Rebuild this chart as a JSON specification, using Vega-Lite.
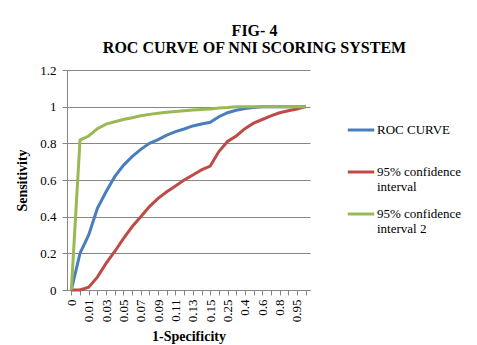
{
  "$schema": "https://vega.github.io/schema/vega-lite/v6.json",
  "width": 243,
  "height": 220,
  "autosize": {"type": "none"},
  "padding": {"left": 67, "top": 70, "right": 167, "bottom": 55},
  "background": "white",
  "title": {
    "text": ["FIG- 4", "ROC CURVE OF NNI SCORING SYSTEM"],
    "font": "'Liberation Serif', 'Times New Roman', serif",
    "fontSize": 16,
    "fontWeight": "bold",
    "lineHeight": 17,
    "color": "black",
    "anchor": "middle",
    "dx": 66,
    "offset": 8
  },
  "data": {
    "values": [
      {"x": "0", "roc": 0, "lo": 0, "hi": 0},
      {"x": "0.005", "roc": 0.2, "lo": 0, "hi": 0.818},
      {"x": "0.01", "roc": 0.3, "lo": 0.015, "hi": 0.84},
      {"x": "0.02", "roc": 0.445, "lo": 0.07, "hi": 0.88},
      {"x": "0.03", "roc": 0.536, "lo": 0.145, "hi": 0.905},
      {"x": "0.04", "roc": 0.618, "lo": 0.21, "hi": 0.918},
      {"x": "0.05", "roc": 0.68, "lo": 0.28, "hi": 0.93},
      {"x": "0.06", "roc": 0.727, "lo": 0.345, "hi": 0.94},
      {"x": "0.07", "roc": 0.767, "lo": 0.4, "hi": 0.95},
      {"x": "0.08", "roc": 0.8, "lo": 0.455, "hi": 0.958},
      {"x": "0.09", "roc": 0.82, "lo": 0.5, "hi": 0.964},
      {"x": "0.1", "roc": 0.845, "lo": 0.536, "hi": 0.969},
      {"x": "0.11", "roc": 0.864, "lo": 0.567, "hi": 0.973},
      {"x": "0.12", "roc": 0.878, "lo": 0.6, "hi": 0.978},
      {"x": "0.13", "roc": 0.895, "lo": 0.627, "hi": 0.982},
      {"x": "0.14", "roc": 0.905, "lo": 0.655, "hi": 0.985},
      {"x": "0.15", "roc": 0.915, "lo": 0.676, "hi": 0.987},
      {"x": "0.2", "roc": 0.945, "lo": 0.755, "hi": 0.993},
      {"x": "0.25", "roc": 0.967, "lo": 0.81, "hi": 0.995},
      {"x": "0.3", "roc": 0.98, "lo": 0.84, "hi": 1},
      {"x": "0.4", "roc": 0.99, "lo": 0.88, "hi": 1},
      {"x": "0.5", "roc": 0.996, "lo": 0.91, "hi": 1},
      {"x": "0.6", "roc": 1, "lo": 0.93, "hi": 1},
      {"x": "0.7", "roc": 1, "lo": 0.95, "hi": 1},
      {"x": "0.8", "roc": 1, "lo": 0.967, "hi": 1},
      {"x": "0.9", "roc": 1, "lo": 0.978, "hi": 1},
      {"x": "0.95", "roc": 1, "lo": 0.987, "hi": 1},
      {"x": "1", "roc": 1, "lo": 1, "hi": 1}
    ]
  },
  "transform": [{"fold": ["roc", "lo", "hi"], "as": ["series", "y"]}],
  "mark": {"type": "line", "strokeWidth": 3},
  "encoding": {
    "x": {
      "field": "x",
      "type": "ordinal",
      "scale": {
        "type": "point",
        "padding": 0.5,
        "domain": ["0","0.005","0.01","0.02","0.03","0.04","0.05","0.06","0.07","0.08","0.09","0.1","0.11","0.12","0.13","0.14","0.15","0.2","0.25","0.3","0.4","0.5","0.6","0.7","0.8","0.9","0.95","1"]
      },
      "axis": {
        "title": "1-Specificity",
        "titleFont": "'Liberation Serif', 'Times New Roman', serif",
        "titleFontSize": 14,
        "titleFontWeight": "bold",
        "titleColor": "black",
        "titlePadding": 8,
        "labelFont": "'Liberation Serif', 'Times New Roman', serif",
        "labelFontSize": 13,
        "labelColor": "black",
        "labelAngle": -90,
        "labelPadding": 4,
        "labelExpr": "indexof(['0.005','0.02','0.04','0.06','0.08','0.1','0.12','0.14','0.2','0.3','0.5','0.7','0.9','1'], datum.value) >= 0 ? '' : datum.label",
        "domainColor": "#868686",
        "tickColor": "#868686",
        "tickSize": 5,
        "grid": false
      }
    },
    "y": {
      "field": "y",
      "type": "quantitative",
      "scale": {"domain": [0, 1.2], "nice": false},
      "axis": {
        "title": "Sensitivity",
        "values": [0, 0.2, 0.4, 0.6, 0.8, 1, 1.2],
        "format": "~g",
        "titleFont": "'Liberation Serif', 'Times New Roman', serif",
        "titleFontSize": 14,
        "titleFontWeight": "bold",
        "titleColor": "black",
        "titlePadding": 10,
        "labelFont": "'Liberation Serif', 'Times New Roman', serif",
        "labelFontSize": 13,
        "labelColor": "black",
        "labelPadding": 6,
        "domainColor": "#868686",
        "tickColor": "#868686",
        "tickSize": 5,
        "gridColor": "#868686",
        "gridWidth": 1
      }
    },
    "color": {
      "field": "series",
      "type": "nominal",
      "scale": {"domain": ["roc", "lo", "hi"], "range": ["#4a7ebb", "#be4b48", "#98b954"]},
      "legend": {
        "title": null,
        "orient": "none",
        "legendX": 279,
        "legendY": 45,
        "symbolType": "stroke",
        "symbolSize": 700,
        "symbolStrokeWidth": 3,
        "labelFont": "'Liberation Serif', 'Times New Roman', serif",
        "labelFontSize": 13,
        "labelColor": "black",
        "labelOffset": 1,
        "labelLimit": 200,
        "rowPadding": 5,
        "labelExpr": "datum.value == 'roc' ? ['ROC CURVE', ' '] : datum.value == 'lo' ? ['95% confidence', 'interval'] : ['95% confidence', 'interval 2']"
      }
    }
  },
  "config": {"view": {"stroke": null}, "font": "'Liberation Serif', 'Times New Roman', serif"}
}
